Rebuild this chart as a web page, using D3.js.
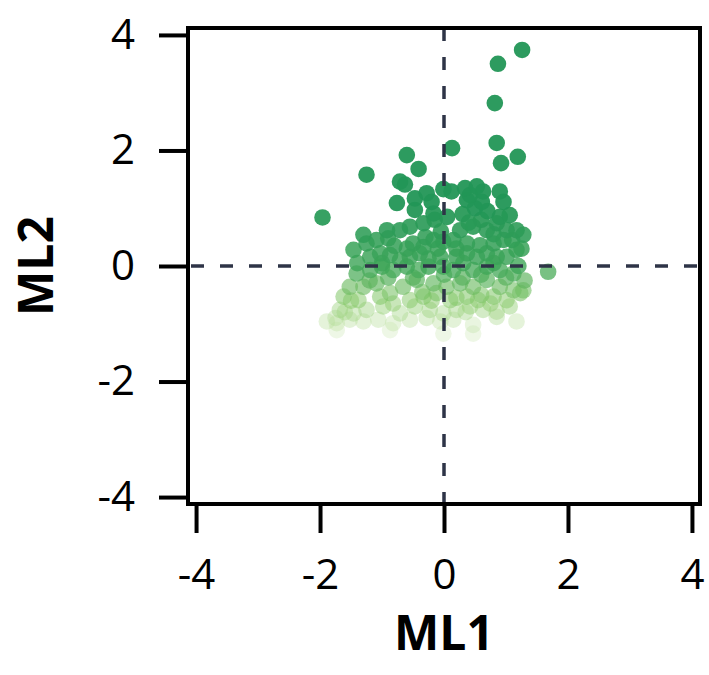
<!DOCTYPE html>
<html>
<head>
<meta charset="utf-8">
<script src="https://cdn.jsdelivr.net/npm/d3@7"></script>
<style>
  body { margin: 0; background: #fff; }
  svg { display: block; }
</style>
</head>
<body>
<div id="chart"></div>
<script>
// ML1 / ML2 scores
const ml1 = [
  1.26, 0.87, 0.82, 0.85, 0.13, 1.19, 0.92, -0.6, -0.41, -1.25, -1.96, 1.68,
  -0.71, -0.63, -0.76, -0.47, -0.2, -0.01, 0.12, 0.34, 0.53, 0.42, 0.63, 0.9,
  0.96, 0.61, 0.37, 1.06, -0.28, -0.17, -0.15, -0.47, -0.33, -1.3, -1.25,
  -1.09, -0.9, -0.71, -0.55, -1.46, -0.92, 0.26, 0.47, 0.69, 0.85, 1.01, 1.17,
  1.28, -0.17, -0.01, 0.15, 0.37, 0.58, 0.8, 0.96, -0.5, -0.33,
  -1.19, -1.03, -0.87, -0.71, -0.55, -0.39, -0.25, -0.06, 0.2, 0.37, 0.53,
  0.69, 0.85, 1.01, 1.17,
  -1.41, -1.19, -1.0, -0.82, -0.6, -0.41, -0.25, -0.01, 0.15, 0.31, 0.47,
  0.69, 0.9, 1.12,
  -1.52, -1.3, -1.09, -0.87, -0.66, -0.44, -0.17, 0.04, 0.26, 0.47, 0.69,
  0.9, 1.12, 1.28,
  -1.62, -1.38, -1.03, -0.82, -0.55, -0.33, -0.12, 0.1, 0.37, 0.55, 0.8,
  1.01, 1.23,
  -1.68, -1.46, -1.25, -0.98, -0.71, -0.47, -0.23, -0.01, 0.2, 0.42, 0.63,
  0.85, 1.06,
  -1.89, -1.73, -1.52, -1.3, -1.06, -0.82, -0.55, -0.28, -0.06, 0.15, 0.47,
  0.85, 1.17,
  -1.73, -0.87, -0.01, 0.47,
  0.3, 0.5, 0.7, 0.9, 0.4, 0.6, 0.8, 1.1, 0.2, -0.05, -0.1, 0.05, -0.3, -0.6,
  -0.8, -1.0, -1.2, -0.5, 0.0, 0.3, 0.6, 0.8, 1.0, -0.35, 0.2, 0.6, -0.9,
  -0.2, 0.75, 0.35, 1.2, 1.25, 1.3, -1.5, -1.4, -1.6, -1.75
];
const ml2 = [
  3.74, 3.5, 2.82, 2.13, 2.04, 1.89, 1.78, 1.92, 1.68, 1.58, 0.84, -0.1,
  1.46, 1.41, 1.09, 1.17, 1.11, 1.33, 1.29, 1.35, 1.38, 1.23, 1.29, 1.29,
  1.11, 1.11, 1.14, 0.88, 1.26, 0.91, 0.8, 0.97, 0.74, 0.54, 0.39,
  0.45, 0.48, 0.62, 0.68, 0.28, 0.62, 0.62, 0.68, 0.62, 0.74, 0.62, 0.62,
  0.54, 0.45, 0.42, 0.45, 0.39, 0.36, 0.39, 0.45, 0.39, 0.33,
  0.16, 0.22, 0.19, 0.1, 0.16, 0.22, 0.13, 0.16, 0.16, 0.22, 0.16,
  0.22, 0.16, 0.16, 0.28,
  -0.13, -0.07, -0.01, -0.07, -0.01, -0.07, -0.01, -0.01, -0.07, 0.05, -0.07,
  -0.01, -0.07, -0.13,
  -0.36, -0.36, -0.3, -0.47, -0.36, -0.24, -0.3, -0.36, -0.3, -0.36, -0.24,
  -0.36, -0.42, -0.42,
  -0.53, -0.59, -0.53, -0.65, -0.59, -0.53, -0.47, -0.59, -0.53, -0.59, -0.53,
  -0.59, -0.47,
  -0.76, -0.82, -0.76, -0.7, -0.82, -0.7, -0.76, -0.82, -0.76, -0.7, -0.76,
  -0.79, -0.7,
  -0.96, -0.99, -0.93, -0.96, -0.93, -0.99, -0.93, -0.9, -0.96, -0.93, -1.02,
  -0.88, -0.96,
  -1.11, -1.11, -1.17, -1.17,
  0.9, 1.0, 0.95, 0.85, 0.75, 0.8, 0.55, 0.45, 0.3, 0.6, 0.3, 0.85, 0.5, 0.3,
  0.35, 0.05, -0.25, -0.2, -0.15, -0.2, -0.15, 0.05, -0.2, -0.45, -0.55, -0.5,
  -0.2, -0.6, -0.65, -0.8, 0.0, 0.3, -0.25, -0.6, 0.05, -0.8, -0.9
];
const tickValues = [-4, -2, 0, 2, 4];

const width = 709, height = 675;
const box = { left: 188, right: 700, top: 28, bottom: 504 };

const svg = d3
  .select("#chart")
  .append("svg")
  .attr("width", width)
  .attr("height", height);

const x = d3.scaleLinear().domain([-4.13, 4.13]).range([box.left, box.right]);
const y = d3.scaleLinear().domain([4.12, -4.12]).range([box.top, box.bottom]);

// color and opacity follow ML2
const color = d3
  .scaleLinear()
  .domain([-1.1, -0.6, 0, 1])
  .range(["#c8e6ac", "#86c866", "#3fa658", "#229656"])
  .clamp(true);
const alpha = d3
  .scaleLinear()
  .domain([-1.1, -0.6, 0, 1])
  .range([0.3, 0.5, 0.8, 0.95])
  .clamp(true);

const points = ml1.map((v, i) => ({ x: v, y: ml2[i] }));
// draw light points first
points.sort((a, b) => a.y - b.y);

svg
  .append("g")
  .selectAll("circle")
  .data(points)
  .join("circle")
  .attr("cx", (d) => x(d.x))
  .attr("cy", (d) => y(d.y))
  .attr("r", 8.3)
  .attr("fill", (d) => color(d.y))
  .attr("fill-opacity", (d) => alpha(d.y));

// dashed zero lines
svg
  .append("line")
  .attr("x1", x(0)).attr("x2", x(0))
  .attr("y1", box.top).attr("y2", box.bottom)
  .attr("stroke", "#2e3447").attr("stroke-width", 3.5)
  .attr("stroke-dasharray", "13,16");
svg
  .append("line")
  .attr("x1", box.left).attr("x2", box.right)
  .attr("y1", y(0)).attr("y2", y(0))
  .attr("stroke", "#2e3447").attr("stroke-width", 3.5)
  .attr("stroke-dasharray", "13,16")
  .attr("stroke-dashoffset", -3);

// frame
svg
  .append("rect")
  .attr("x", box.left).attr("y", box.top)
  .attr("width", box.right - box.left)
  .attr("height", box.bottom - box.top)
  .attr("fill", "none")
  .attr("stroke", "#000")
  .attr("stroke-width", 4);

const xAxis = svg
  .append("g")
  .attr("transform", `translate(0,${box.bottom + 2})`)
  .call(d3.axisBottom(x).tickValues(tickValues).tickSize(27).tickPadding(26).tickFormat(d3.format("d")));
const yAxis = svg
  .append("g")
  .attr("transform", `translate(${box.left - 2},0)`)
  .call(d3.axisLeft(y).tickValues(tickValues).tickSize(27).tickPadding(24).tickFormat(d3.format("d")));

[xAxis, yAxis].forEach((g) => {
  g.select(".domain").remove();
  g.selectAll(".tick line").attr("stroke", "#000").attr("stroke-width", 4);
  g.selectAll(".tick text")
    .attr("fill", "#000")
    .style("font-family", "'Open Sans', sans-serif")
    .style("font-size", "42px");
});
// minus sign as plain hyphen like the original
svg.selectAll(".tick text").text((d) => String(d));

svg
  .append("text")
  .attr("x", x(0))
  .attr("y", 650)
  .attr("text-anchor", "middle")
  .style("font-family", "'Open Sans', sans-serif")
  .style("font-size", "48px")
  .style("font-weight", "bold")
  .text("ML1");

svg
  .append("text")
  .attr("transform", `translate(53,${y(0)}) rotate(-90)`)
  .attr("text-anchor", "middle")
  .style("font-family", "'Open Sans', sans-serif")
  .style("font-size", "48px")
  .style("font-weight", "bold")
  .text("ML2");
</script>
</body>
</html>
